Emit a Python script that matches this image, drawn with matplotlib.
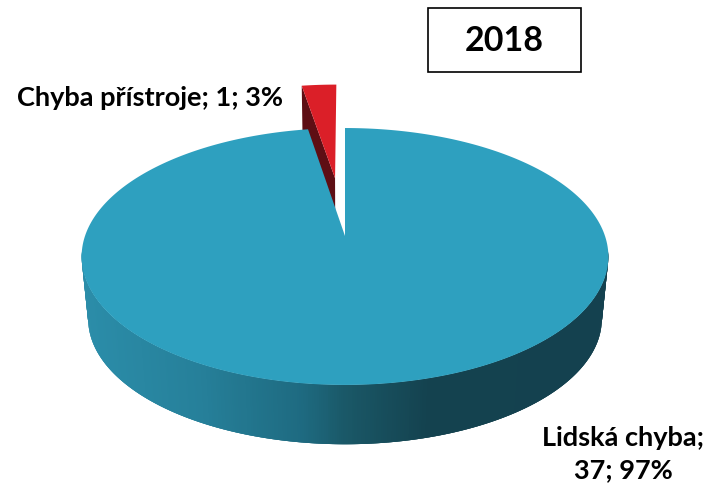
import numpy as np
import matplotlib.pyplot as plt
from matplotlib.collections import PolyCollection
from matplotlib.colors import LinearSegmentedColormap

# data
categories = ['Lidská chyba', 'Chyba přístroje']
values = np.array([37, 1])
year = '2018'

top_colors = ['#2EA0BF', '#DB1F28']
side_colors = ['#14414F', '#5E0E14']
explode = [0.0, 0.5]

# perspective of the disc, all in pixels
cx, cy = 345, 236
rx, ry = 260, 125.2
persp = 0.1595
depth_scale = 0.975
cy_low = 299


def project(u, v, low=False):
    s = depth_scale if low else 1.0
    y0 = cy_low if low else cy
    w = 1 + persp * v
    return cx + s * rx * u / w, y0 - s * ry * v / w


def slice_outline(t0, t1, shift=0.0, low=False):
    mid = (t0 + t1) / 2
    su, sv = shift * np.sin(mid), shift * np.cos(mid)
    t = np.linspace(t0, t1, 300)
    u = np.r_[su, su + np.sin(t)]
    v = np.r_[sv, sv + np.cos(t)]
    return np.column_stack(project(u, v, low))


fig = plt.figure(figsize=(7.06, 4.83), dpi=100)
ax = fig.add_axes([0, 0, 1, 1])
ax.set_xlim(0, 706)
ax.set_ylim(483, 0)
ax.axis('off')

edges = 2 * np.pi * np.r_[0, np.cumsum(values)] / values.sum()
t_blue = edges[:2]
t_red = edges[1:3]

# red slice: its cut face first, the top goes over it
mid = t_red.mean()
su, sv = explode[1] * np.sin(mid), explode[1] * np.cos(mid)
corner_u = su + np.sin(t_red[0])
corner_v = sv + np.cos(t_red[0])
face = np.array([project(su, sv), project(corner_u, corner_v),
                 project(corner_u, corner_v, True), project(su, sv, True)])
ax.fill(face[:, 0], face[:, 1], color=side_colors[1], lw=0)
red_top = slice_outline(t_red[0], t_red[1], explode[1])
ax.fill(red_top[:, 0], red_top[:, 1], color=top_colors[1], lw=0)

# blue rim, shaded from left to right; strips overlap so no seams show
shade = LinearSegmentedColormap.from_list('rim', [
    (0.0, '#2B8DA9'), (0.22, '#26809A'), (0.42, '#1E6A80'),
    (0.5, '#1A5867'), (0.66, '#14424F'), (1.0, '#14414F')])
t = np.radians(np.linspace(97, 263, 400))[::-1]
xa, ya = project(np.sin(t), np.cos(t))
xb, yb = project(np.sin(t), np.cos(t), True)
strips = [[(xa[i], ya[i]), (xa[i + 3], ya[i + 3]), (xb[i + 3], yb[i + 3]), (xb[i], yb[i])]
          for i in range(len(t) - 3)]
rim_pos = (np.array([s[0][0] for s in strips]) - 81) / (608 - 81)
ax.add_collection(PolyCollection(strips, facecolors=shade(rim_pos), linewidths=0))

blue_top = slice_outline(t_blue[0], t_blue[1])
ax.fill(blue_top[:, 0], blue_top[:, 1], color=top_colors[0], lw=0)

# labels
pct = np.round(100 * values / values.sum()).astype(int)
font = dict(family='Lato', weight='bold', color='black')
ax.text(150, 98, f'{categories[1]}; {values[1]}; {pct[1]}%', fontsize=19.5,
        ha='center', va='center', **font)
ax.text(623, 438, f'{categories[0]};', fontsize=19.5, ha='center', va='center', **font)
ax.text(623, 470, f'{values[0]}; {pct[0]}%', fontsize=19.5, ha='center', va='center', **font)

ax.text(504, 41, year, fontsize=24.5, ha='center', va='center', **font)
ax.add_patch(plt.Rectangle((427.5, 7.5), 153, 64, fc='none', ec='black', lw=1.2))

fig.savefig('out.png', dpi=100)
